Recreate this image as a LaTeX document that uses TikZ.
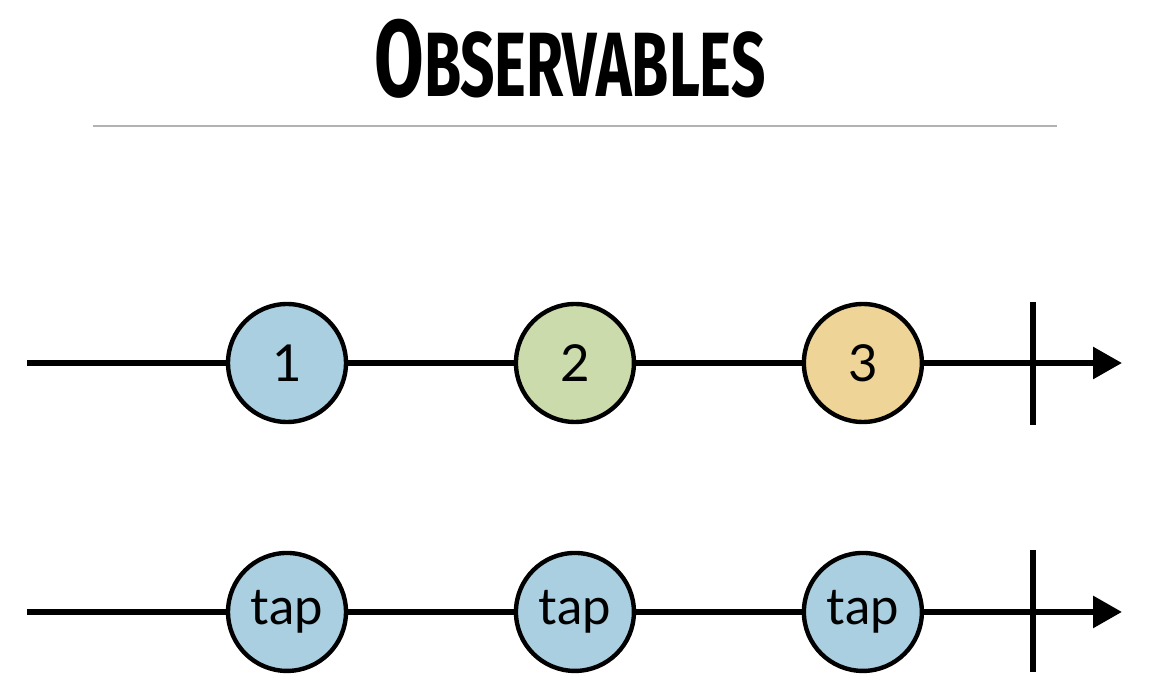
\documentclass[tikz,border=0pt]{standalone}
\usepackage{fontspec}
\setmainfont{Lato}
\newfontfamily\titlefont{Fira Sans}
\usetikzlibrary{positioning, arrows.meta}

\definecolor{marbleblue}{RGB}{169,207,224}
\definecolor{marblegreen}{RGB}{203,219,171}
\definecolor{marbleorange}{RGB}{239,212,151}

\begin{document}
\begin{tikzpicture}[
            x=0.02cm, y=-0.02cm,
            marble/.style={
                circle,
                draw=black,
                line width=2.5pt,
                minimum size=2.36cm,
                inner sep=0pt,
                outer sep=0pt,
                font=\fontsize{29}{31}\selectfont
            },
            timeline/.style={
                line width=3.4pt
            },
            arrow/.style={
                timeline,
                -{Triangle[length=0.58cm,width=0.62cm]}
            },
            tickmark/.style={
                line width=3.4pt
            }
        ]
            \useasboundingbox (0,0) rectangle (1154,692);

            % title
            \node[font=\titlefont\bfseries, xscale=0.66, transform shape] (title) at (570,59)
                {\fontsize{62}{62}\selectfont O\fontsize{52}{52}\selectfont BSERVABLES};
            \coordinate (ruleL) at (93,126);
            \coordinate (ruleR) at (1057,126);
            \draw[gray!60, line width=0.6pt] (ruleL) -- (ruleR);

            % upper stream
            \coordinate (start1) at (27,363);
            \node [marble, fill=marbleblue] (m1) at (287,363) {1};
            \node [marble, fill=marblegreen, right=3.4cm of m1] (m2) {2};
            \node [marble, fill=marbleorange, right=3.4cm of m2] (m3) {3};
            \coordinate (tick1) at (1033,363);
            \coordinate (end1) at (1122,363);

            \draw [timeline] (start1) -- (m1);
            \draw [timeline] (m1) -- (m2);
            \draw [timeline] (m2) -- (m3);
            \draw [arrow] (m3) -- (end1);
            \draw [tickmark] ([yshift=1.22cm]tick1) -- ([yshift=-1.24cm]tick1);

            % lower stream
            \node [marble, fill=marbleblue, below=2.62cm of m1] (t1) {tap};
            \node [marble, fill=marbleblue, below=2.62cm of m2] (t2) {tap};
            \node [marble, fill=marbleblue, below=2.62cm of m3] (t3) {tap};
            \coordinate (start2) at (start1 |- t1);
            \coordinate (tick2) at (tick1 |- t1);
            \coordinate (end2) at (end1 |- t1);

            \draw [timeline] (start2) -- (t1);
            \draw [timeline] (t1) -- (t2);
            \draw [timeline] (t2) -- (t3);
            \draw [arrow] (t3) -- (end2);
            \draw [tickmark] ([yshift=1.24cm]tick2) -- ([yshift=-1.2cm]tick2);

        \end{tikzpicture}
\end{document}
